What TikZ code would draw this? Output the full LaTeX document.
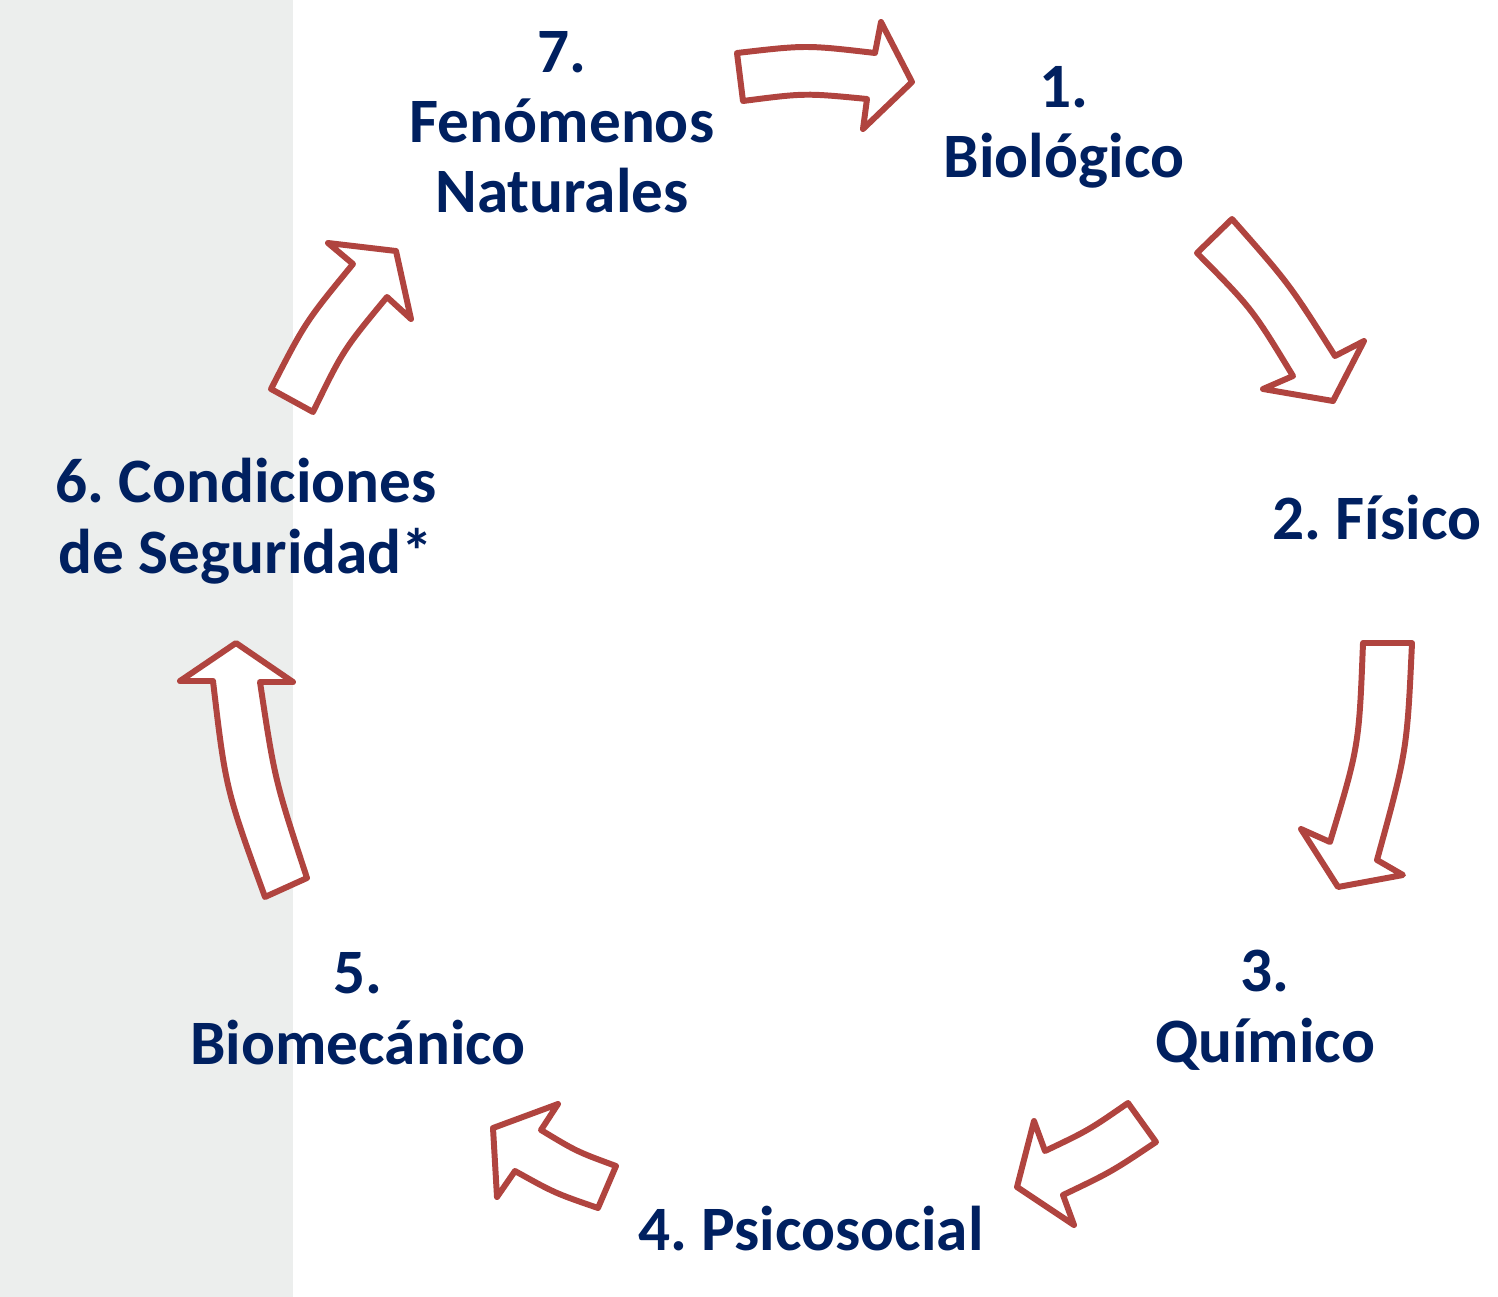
\documentclass[tikz,border=0pt]{standalone}
\usepackage{fontspec}
\setmainfont{Carlito}
\usepackage{tikz}
\frenchspacing
\definecolor{navy}{HTML}{002060}
\definecolor{arrowred}{HTML}{B0443F}
\definecolor{stripgrey}{HTML}{ECEEED}
\tikzset{
    risk/.style={font=\bfseries\fontsize{36}{40}\selectfont, text=navy, align=center, anchor=base, inner sep=0pt},
    blockarrow/.style={draw=arrowred, fill=white, line width=3.4pt, line join=round}
}

\begin{document}
\begin{tikzpicture}[x=0.02cm, y=-0.02cm]
          \useasboundingbox (0,0) rectangle (1498,1297);
          \fill[stripgrey] (0,0) rectangle (293,1297);
          \node [risk] (bio) at (1064,178) {1.\\Biológico};
          \node [risk] (fis) at (1377,540) {2. Físico};
          \node [risk] (qui) at (1265,1062) {3.\\Químico};
          \node [risk] (psi) at (811,1250) {4. Psicosocial};
          \node [risk] (bmc) at (358,1064) {5.\\Biomecánico};
          \node [risk] (seg) at (246,573) {6. Condiciones\\de Seguridad*};
          \node [risk] (nat) at (562,213) {7.\\Fenómenos\\Naturales};
          \draw[blockarrow] (737,53) .. controls (806,45) .. (875,53) -- (881,22) -- (912,82) -- (863,129) -- (867,99) .. controls (805,93) .. (743,101) -- cycle;
          \draw[blockarrow] (1232,219) .. controls (1289,283.5) .. (1335,356) -- (1364,341) -- (1333,401) -- (1263,389) -- (1293,376) .. controls (1252,308.5) .. (1197,253) -- cycle;
          \draw[blockarrow] (1412,643) .. controls (1407,751) .. (1377,860) -- (1403,875) -- (1338,887) -- (1301,829) -- (1330,842) .. controls (1359,746) .. (1363,643) -- cycle;
          \draw[blockarrow] (1156,1142) .. controls (1111.5,1171.8) .. (1063,1195) -- (1074,1225) -- (1017,1187) -- (1034,1121) -- (1045,1151) .. controls (1088.5,1130.3) .. (1128,1103) -- cycle;
          \draw[blockarrow] (598,1208) .. controls (554.8,1193.1) .. (515,1171) -- (497,1197) -- (493,1128) -- (558,1104) -- (541,1130) .. controls (576.8,1151.6) .. (616,1166) -- cycle;
          \draw[blockarrow] (307,878) .. controls (274.8,780) .. (260,682) -- (293,682) -- (236,643) -- (180,681) -- (213,681) .. controls (225.7,789) .. (265,897) -- cycle;
          \draw[blockarrow] (313,412) .. controls (343.3,349.8) .. (387,297) -- (411,319) -- (396,251) -- (328,243) -- (353,264) .. controls (305.3,322.1) .. (271,389) -- cycle;
        \end{tikzpicture}
\end{document}
